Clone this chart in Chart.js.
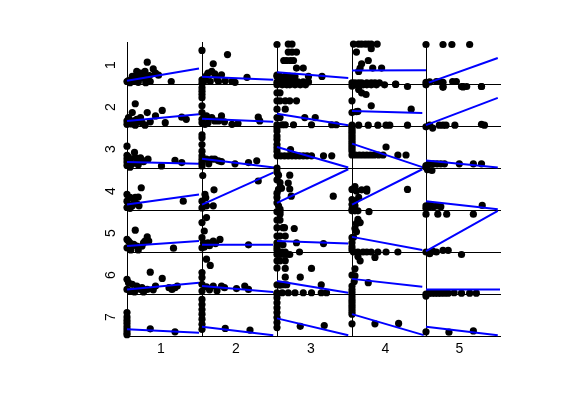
<!DOCTYPE html>
<html><head><meta charset="utf-8">
<script src="https://cdn.jsdelivr.net/npm/chart.js"></script>
<style>
body{margin:0;background:#fff;width:561px;height:420px;overflow:hidden;position:relative;}
canvas{position:absolute;}
.lbl{position:absolute;font-family:"Liberation Sans",Arial,sans-serif;font-size:14px;line-height:14px;color:#000;white-space:nowrap;}
</style></head><body>
<script>
// Tick labels
const colLabels = ['1','2','3','4','5'];
const rowLabels = ['1','2','3','4','5','6','7'];

// Scatter points per panel [x, y] (row r, column c), each panel scaled 0..1
const P11 = [[0,.06],[.02,.08],[.07,.18],[.09,.06],[.11,.1],[.13,.3],[.18,.26],[.2,.14],[.22,.24],[.24,.3],[.27,.52],[.27,.1],[.31,.06],[.35,.36],[.38,.26],[.42,.21],[.59,.06],[.04,.03],[.15,.04],[.25,.03],[.16,.18],[.3,.2],[.12,.2]];
const P12 = [[0,.8],[.34,.7],[.15,.48],[.08,.26],[.13,.3],[.17,.24],[.26,.22],[.04,.14],[.11,.06],[.22,.06],[.31,.08],[.4,.06],[.44,.04],[.6,.16],[.02,.05],[0,.1],[.2,.12],[.06,.2],[0,.02]];
const P13 = [[0,.94],[.15,.95],[.2,.95],[.15,.76],[.2,.76],[.26,.76],[.09,.56],[.13,.56],[.18,.56],[.22,.56],[.26,.38],[.35,.38],[0,.21],[0,.18],[.04,.18],[.11,.18],[.17,.18],[.24,.18],[.42,.18],[.6,.18],[0,.04],[.06,.05],[.11,.05],[.17,.05],[.22,.05],[.28,.05],[.35,.05],[.42,.05]];
const P14 = [[.02,.95],[.09,.95],[.13,.95],[.18,.95],[.22,.95],[.26,.95],[.34,.95],[.06,.76],[.26,.84],[.22,.56],[.13,.48],[.11,.38],[.09,.3],[.28,.38],[.4,.38],[0,.03],[.04,.03],[.09,.03],[.13,.03],[.2,.03],[.26,.03],[.31,.03],[.37,.03],[.59,0]];
const P15 = [[0,.94],[.23,.94],[.35,.94],[.59,.94],[0,.04],[.05,.05],[.14,.06],[.18,.06],[.23,.04],[.36,.06],[.41,.06],[.23,-.08],[.5,-.06],[.55,-.06],[.75,-.06]];
const P21 = [[.11,.53],[.07,.32],[.27,.32],[.47,.37],[.38,.24],[.51,.08],[.73,.21],[.79,.16],[.02,.2],[0,.12],[.04,.08],[.09,.12],[.13,.16],[.2,.08],[.24,.02],[.06,.05],[.16,.1],[0,.04],[.11,.02],[.31,.1],[.18,.2]];
const P22 = [[0,.91],[0,.83],[0,.75],[0,.67],[0,.48],[0,.32],[0,.16],[0,.08],[.06,.24],[.13,.2],[.26,.24],[.17,.12],[.4,.04],[.48,.06],[.75,.21],[.77,.12],[.08,.08],[.22,.12],[.3,.1],[.04,.04]];
const P23 = [[0,.98],[.07,.98],[.13,.98],[.17,.98],[.24,.98],[.31,.98],[.38,.98],[0,.79],[.04,.79],[0,.6],[.04,.6],[.11,.6],[.17,.6],[.26,.6],[0,.4],[.11,.4],[0,.2],[.04,.2],[.37,.2],[.51,.2],[0,.03],[.07,.03],[.11,.03],[.22,.03],[.46,.03],[.73,.03],[.79,.03]];
const P24 = [[0,.95],[.04,.98],[.09,.98],[.15,.98],[.2,.98],[.26,.98],[.33,.98],[.44,.98],[.59,.99],[.75,.94],[.09,.87],[.13,.79],[.19,.75],[0,.6],[.26,.48],[0,.32],[.06,.34],[.08,.35],[.8,.4],[0,.02],[.09,.02],[.22,.02],[.35,.02],[.46,.02],[.51,.02],[.75,.02]];
const P25 = [[0,.98],[.23,.94],[.48,.94],[.5,.93],[.75,.94],[0,-.02],[.09,-.05],[.18,.02],[.23,.02],[.27,.02],[.39,.02],[.75,.04],[.79,.02],[.05,.02]];
const P31 = [[0,.52],[.1,.37],[0,.3],[0,.22],[0,.14],[0,.06],[.02,.26],[.04,.19],[.18,.24],[.2,.19],[.22,.15],[.13,.13],[.07,.1],[.28,.21],[.46,.05],[.64,.18],[.73,.13],[.11,.25],[.15,.08],[.04,.02]];
const P32 = [[0,.79],[0,.72],[0,.56],[0,.4],[0,.29],[0,.21],[0,.13],[0,.05],[.06,.21],[.13,.21],[.22,.17],[.26,.15],[.44,.1],[.62,.13],[.73,.17],[.09,.1],[.17,.21]];
const P33 = [[0,.96],[0,.88],[0,.76],[0,.68],[0,.56],[0,.48],[0,.4],[0,.29],[.05,.29],[.1,.29],[.15,.29],[.2,.29],[.25,.29],[.3,.29],[.35,.29],[.4,.29],[.46,.29],[.62,.29],[.73,.29],[.18,.44]];
const P34 = [[0,1],[0,.95],[0,.9],[0,.85],[0,.8],[0,.75],[0,.7],[0,.65],[0,.6],[0,.55],[0,.5],[0,.45],[0,.4],[.46,.5],[0,.31],[.05,.31],[.1,.31],[.15,.31],[.2,.31],[.25,.31],[.3,.31],[.36,.31],[.42,.31],[.62,.31],[.73,.31]];
const P35 = [[0,.02],[.04,.1],[.1,.1],[.15,.1],[.2,.1],[.25,.1],[.45,.1],[.64,.1],[.75,.1],[.02,-.04],[.08,-.06],[0,.06]];
const P41 = [[.19,.53],[0,.37],[.04,.3],[.11,.3],[.15,.31],[0,.21],[.02,.13],[.07,.1],[.16,.1],[0,.06],[.04,.04],[.75,.21],[.1,.2],[.13,.15]];
const P42 = [[.01,.82],[.16,.48],[.04,.37],[.05,.29],[0,.21],[.02,.1],[.06,.1],[.15,.1],[.75,.69],[0,.05]];
const P43 = [[0,1],[0,.9],[.02,.83],[.17,.83],[0,.72],[.04,.65],[.15,.64],[.06,.52],[.17,.5],[.02,.49],[.19,.33],[.75,.33],[0,.17],[.02,.1],[.04,.02],[0,.3],[0,.4]];
const P44 = [[0,.49],[.04,.56],[.06,.45],[.13,.48],[.2,.45],[.2,.5],[0,.25],[.04,.21],[.09,.3],[.75,.49],[0,.13],[.04,.1],[0,.02]];
const P45 = [[0,.1],[.05,.12],[.1,.08],[.15,.1],[.2,.08],[0,.04],[.76,.11],[.03,.06]];
const P51 = [[.11,.52],[0,.3],[.02,.26],[.04,.22],[.09,.18],[0,.1],[.13,.14],[.27,.36],[.29,.26],[.22,.22],[.2,.14],[.62,.09],[.05,.05],[.15,.05],[.24,.26]];
const P52 = [[.06,.82],[0,.7],[.03,.5],[0,.34],[.02,.22],[.08,.22],[.15,.26],[.24,.3],[.62,.17],[0,.1],[.1,.15],[.18,.2],[.03,.12]];
const P53 = [[0,.96],[.04,.96],[.04,.9],[0,.76],[.04,.76],[0,.58],[.08,.58],[.1,.58],[.23,.56],[0,.38],[.04,.38],[.11,.38],[0,.22],[.04,.2],[.08,.17],[.26,.22],[.62,.2],[0,.05],[.06,0],[.11,0],[.3,0],[0,.12]];
const P54 = [[0,.98],[.04,.98],[.08,.98],[.23,.96],[.08,.78],[.11,.7],[.06,.68],[.04,.56],[.06,.48],[0,.34],[.02,.35],[0,.22],[0,.05],[0,.12],[.02,0],[.08,0],[.15,0],[.2,0],[.26,0],[.35,0],[.46,0],[.62,0]];
const P55 = [[0,.9],[.16,.9],[.28,.9],[.64,.9],[0,0],[.05,-.04],[.09,.02],[.23,.04],[.3,.04],[.48,-.06],[.14,0]];
const P61 = [[.31,.52],[.47,.37],[0,.35],[.02,.27],[.07,.23],[.13,.19],[.2,.15],[0,.11],[.04,.07],[.18,.11],[.27,.11],[.38,.19],[.56,.15],[.6,.11],[.64,.15],[.67,.19],[.1,.05],[.22,.05],[.35,.1]];
const P62 = [[.06,.83],[.11,.68],[0,.51],[0,.39],[0,.23],[.06,.17],[.15,.19],[.26,.19],[.3,.15],[.46,.13],[.57,.19],[.62,.11],[0,.07],[.1,.1],[.2,.08]];
const P63 = [[0,.94],[.04,.94],[.09,.94],[.13,.94],[.17,.94],[0,.79],[.04,.79],[.11,.79],[0,.62],[.11,.61],[.46,.61],[.11,.4],[.31,.4],[0,.22],[.04,.21],[.09,.22],[.13,.22],[.59,.22],[0,.03],[.15,.03],[.24,.03],[.35,.03],[.46,.03],[.59,.03],[.66,.03],[.07,.03]];
const P64 = [[.08,.89],[.31,.87],[.11,.79],[.04,.6],[0,.45],[.04,.43],[.22,.27],[0,.19],[0,.1],[0,.03],[.03,.3]];
const P65 = [[0,0],[.04,.02],[.08,.02],[.12,.02],[.16,.02],[.2,.02],[.25,.02],[.3,.02],[.38,.03],[.48,.02],[.59,.02],[.68,.02],[0,-.05]];
const P71 = [[0,.56],[0,.45],[0,.37],[0,.3],[0,.22],[0,.15],[0,.08],[0,.03],[.31,.17],[.64,.1]];
const P72 = [[0,.87],[0,.75],[0,.63],[0,.52],[0,.4],[0,.28],[0,.16],[.31,.18],[.64,.14]];
const P73 = [[0,1],[0,.91],[0,.79],[0,.67],[0,.56],[0,.44],[0,.32],[0,.2],[.31,.23],[.63,.25]];
const P74 = [[0,.95],[0,.88],[0,.82],[0,.76],[0,.7],[0,.64],[0,.58],[0,.52],[0,.29],[.31,.29],[.63,.3]];
const P75 = [[0,.1],[.31,.09],[.64,.12]];

// Least-squares fit lines per row: [x0, y0, x1, y1] for columns 1..5
const fitsRow1 = [[0,.08,.96,.37],[0,.17,.95,.1],[0,.28,.95,.14],[0,.32,1,.33],[0,.01,.97,.62]];
const fitsRow2 = [[0,.12,.96,.28],[0,.17,.95,.1],[0,.29,.95,.02],[0,.36,.95,.31],[0,.02,.97,.67]];
const fitsRow3 = [[0,.14,.96,.1],[0,.22,.96,.01],[0,.5,.95,.01],[0,.58,.97,.01],[0,.18,.97,.01]];
const fitsRow4 = [[0,.13,.96,.37],[0,.13,.95,.89],[0,.17,.95,.97],[0,.13,.95,.97],[0,.21,.97,.02]];
const fitsRow5 = [[0,.14,.96,.26],[0,.17,.95,.17],[0,.26,.95,.2],[0,.36,.95,.05],[0,.02,.97,.98]];
const fitsRow6 = [[0,.11,.96,.27],[0,.19,.95,.05],[0,.31,.95,.03],[0,.36,.95,.17],[0,.11,1,.11]];
const fitsRow7 = [[0,.16,.96,.08],[0,.22,.95,.02],[0,.42,.95,.02],[0,.52,.97,.02],[0,.22,.97,.02]];

const pointsGrid = [
  [P11,P12,P13,P14,P15],[P21,P22,P23,P24,P25],[P31,P32,P33,P34,P35],
  [P41,P42,P43,P44,P45],[P51,P52,P53,P54,P55],[P61,P62,P63,P64,P65],[P71,P72,P73,P74,P75]];
const fitsGrid = [fitsRow1,fitsRow2,fitsRow3,fitsRow4,fitsRow5,fitsRow6,fitsRow7];

// Layout
const colLeft = [127,202,277,352,426];
const colWidth = [75,75,75,74,74];
const rowTop = [42,84,126,168,210,252,294];
const rowHeight = 42;
const PAD = 10;

const axisOpts = {type:'linear', min:0, max:1, ticks:{display:false},
  grid:{display:false, drawTicks:false}, border:{display:true, color:'#000', width:1}};

for (let r = 0; r < 7; r++) {
  for (let c = 0; c < 5; c++) {
    const cv = document.createElement('canvas');
    const w = colWidth[c] + 2*PAD, h = rowHeight + 2*PAD;
    cv.width = w; cv.height = h;
    cv.style.left = (colLeft[c]-PAD)+'px'; cv.style.top = (rowTop[r]-PAD)+'px';
    cv.style.width = w+'px'; cv.style.height = h+'px';
    document.body.appendChild(cv);
    const f = fitsGrid[r][c];
    new Chart(cv, {
      type:'scatter',
      data:{datasets:[
        {data:[{x:f[0],y:f[1]},{x:f[2],y:f[3]}], showLine:true, borderColor:'#0000ff', borderWidth:2,
         pointRadius:0, pointHoverRadius:0, fill:false, tension:0, clip:false},
        {data:pointsGrid[r][c].map(p=>({x:p[0],y:p[1]})), backgroundColor:'#000', borderWidth:0,
         pointRadius:3.6, pointHoverRadius:3.6, clip:false}
      ]},
      options:{responsive:false, animation:false, devicePixelRatio:1, events:[],
        layout:{padding:PAD},
        plugins:{legend:{display:false}, tooltip:{enabled:false}},
        scales:{x:axisOpts, y:axisOpts}}
    });
  }
}

// Axis labels
colLabels.forEach((t,c)=>{
  const d = document.createElement('div'); d.className='lbl'; d.textContent=t;
  d.style.left = (colLeft[c] + colWidth[c]/2 - 3.5)+'px'; d.style.top='341px';
  d.style.transform='translateX(-50%)';
  document.body.appendChild(d);
});
rowLabels.forEach((t,r)=>{
  const d = document.createElement('div'); d.className='lbl'; d.textContent=t;
  d.style.left='110px'; d.style.top=(rowTop[r] + rowHeight/2 + 2)+'px';
  d.style.transform='translate(-50%,-50%) rotate(-90deg)';
  document.body.appendChild(d);
});
</script>
</body></html>
